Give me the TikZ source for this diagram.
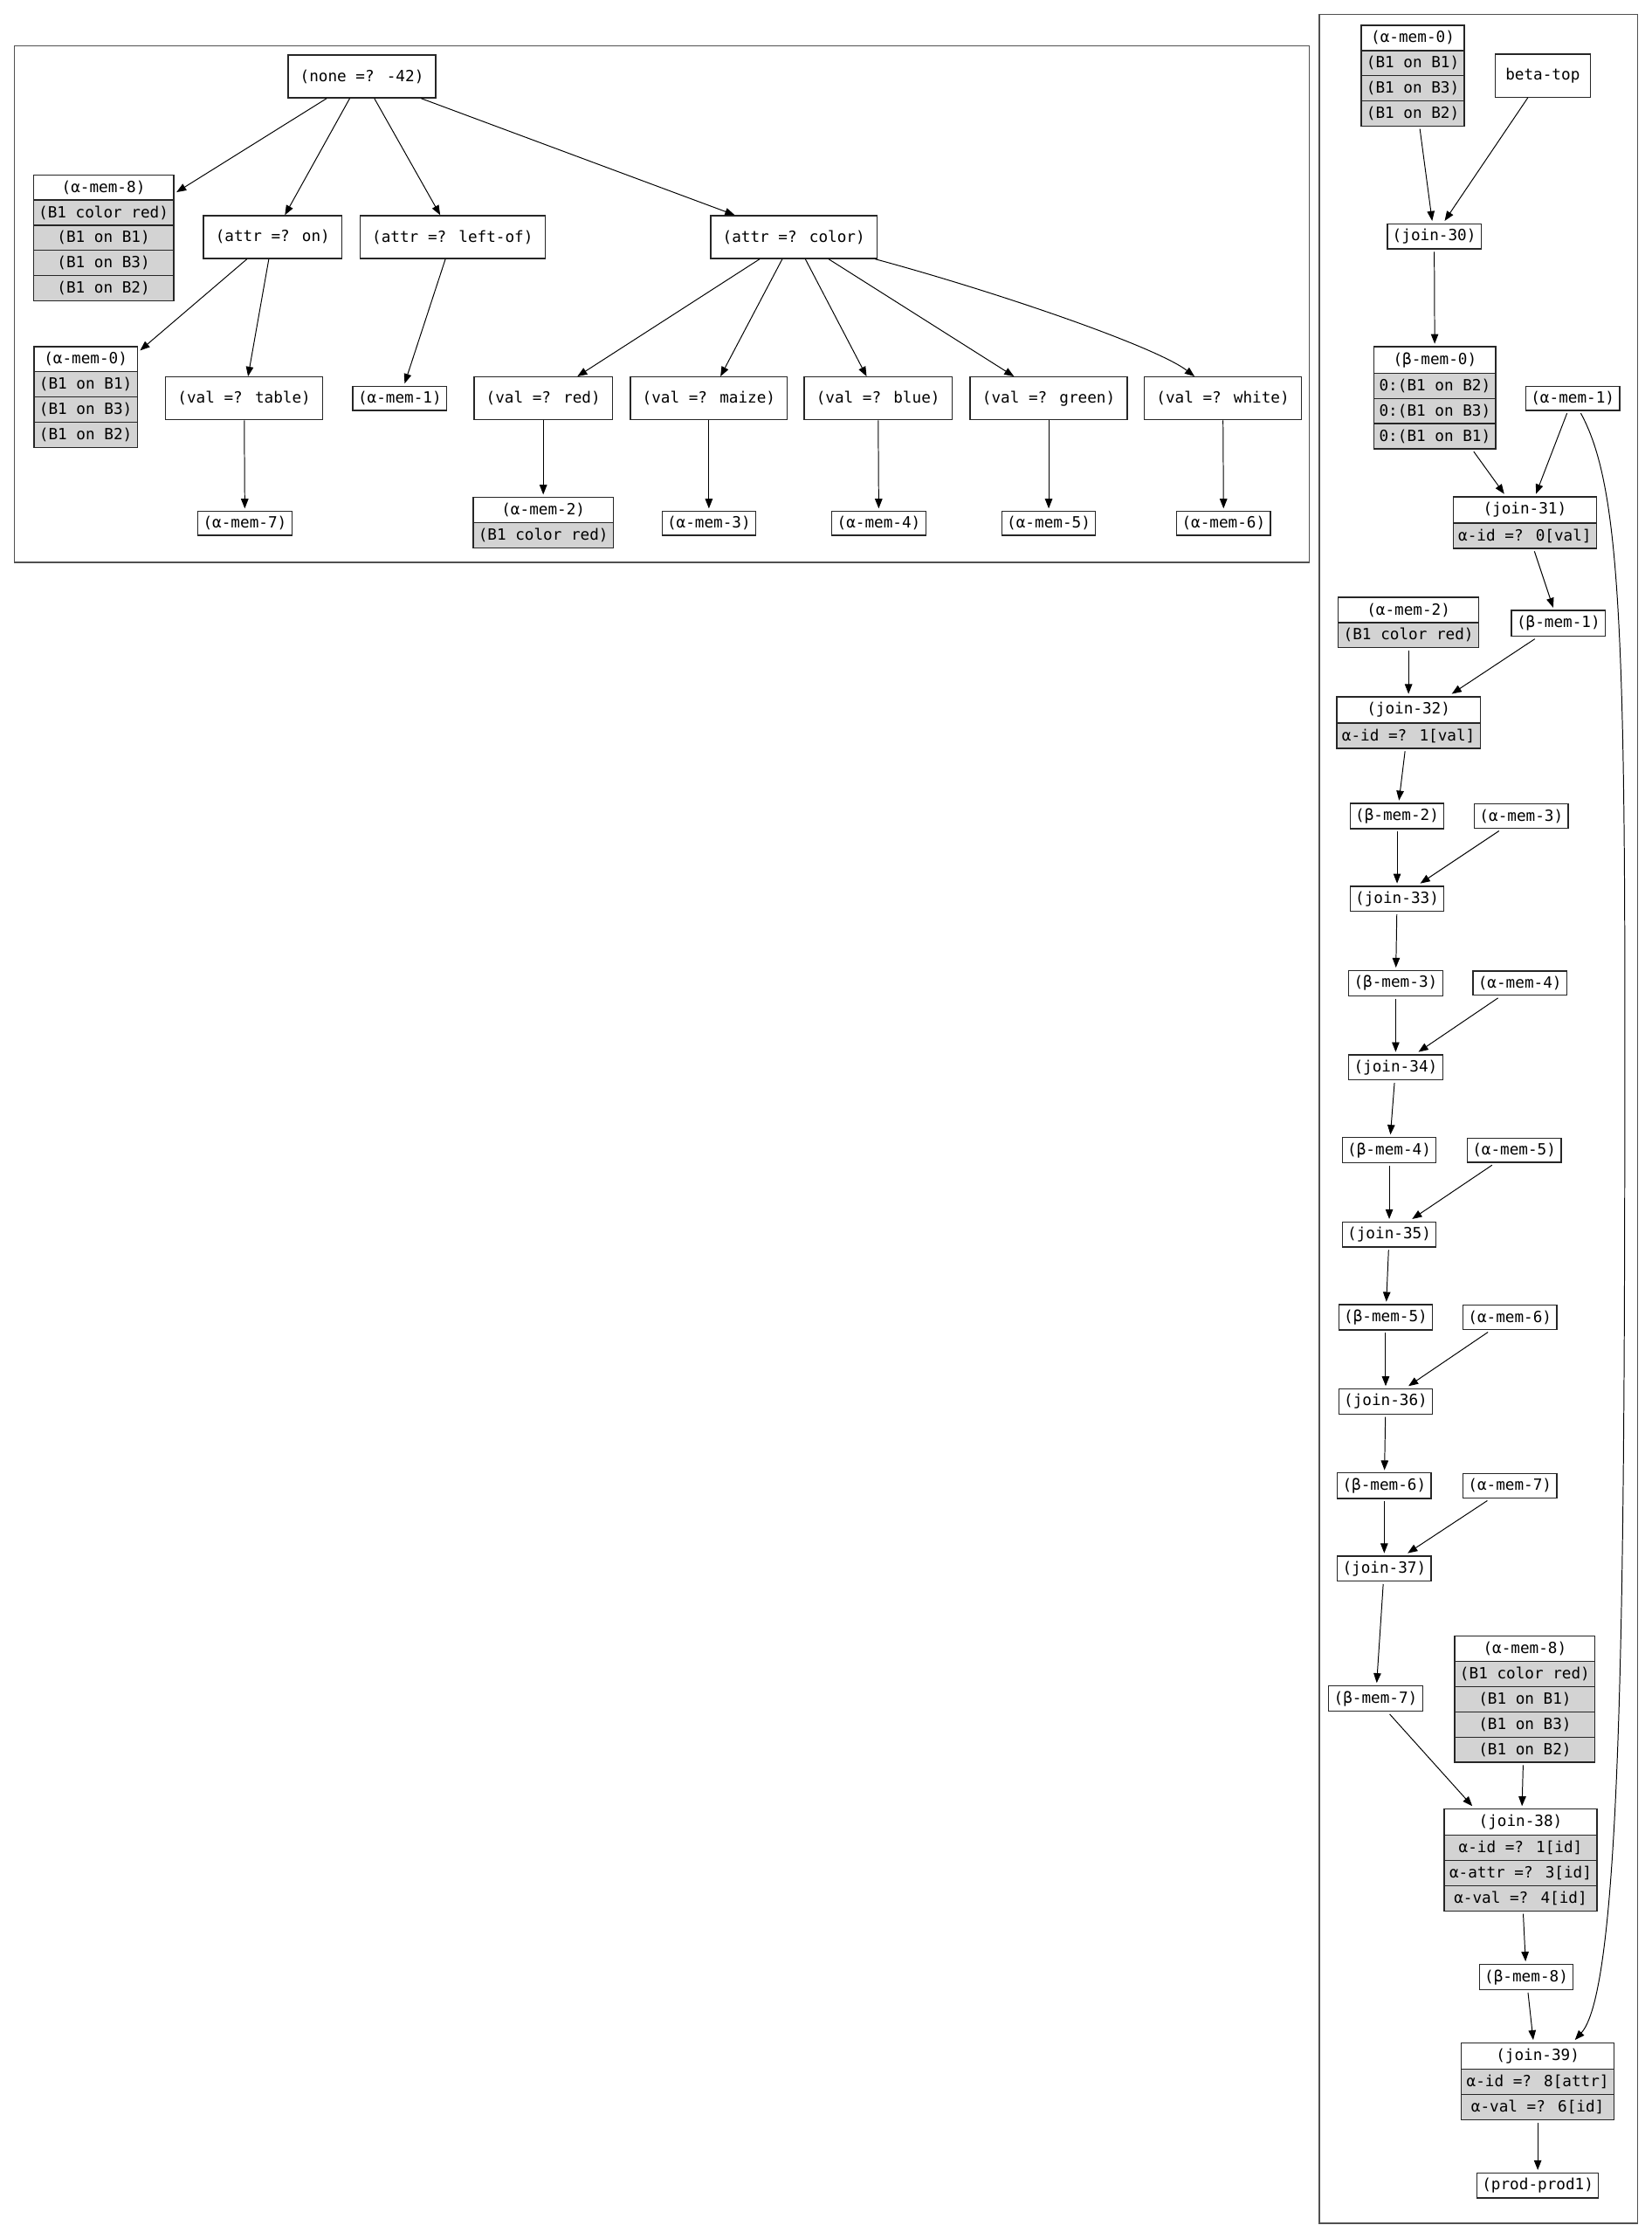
\documentclass[tikz,border=0pt]{standalone}
\usepackage{fontspec}
\usepackage{tikz}
\usetikzlibrary{positioning, arrows.meta, shapes.multipart}
\newfontfamily\dotmono{DejaVu Sans Mono}
\definecolor{rowgray}{RGB}{211,211,211}
\definecolor{clustgray}{RGB}{80,80,80}

\begin{document}
\begin{tikzpicture}[
  x=0.5pt, y=-0.5pt,
  font=\dotmono\fontsize{5.4}{6.5}\selectfont,
  testbox/.style={draw=black!85, line width=0.4pt, rectangle,
                  inner xsep=4.2pt, inner ysep=0pt, minimum height=15pt},
  membox/.style={draw=black!85, line width=0.4pt, rectangle,
                 inner xsep=1.8pt, inner ysep=1.8pt, outer sep=1pt},
  memtable/.style={membox, rectangle split, rectangle split parts=#1,
                   rectangle split part fill={white,rowgray}},
  cluster/.style={draw=clustgray, line width=0.5pt},
  link/.style={-{Triangle[length=3.4pt,width=2.6pt]}, line width=0.3pt}
]
\useasboundingbox (0,0) rectangle (1157,1568);

% alpha network
\draw[cluster] (10,32) rectangle (917,394);

\node[testbox] (nnone)   at (253.5,53.5) {(none =? -42)};
\node[testbox] (aon)     at (191,166)    {(attr =? on)};
\node[testbox] (aleftof) at (317,166)    {(attr =? left-of)};
\node[testbox] (acolor)  at (556,166)    {(attr =? color)};

\node[memtable=5] (la8) at (72.5,166.5)
  {(α-mem-8)\nodepart{two}(B1 color red)\nodepart{three}(B1 on B1)%
   \nodepart{four}(B1 on B3)\nodepart{five}(B1 on B2)};
\node[memtable=4] (la0) at (60,278)
  {(α-mem-0)\nodepart{two}(B1 on B1)\nodepart{three}(B1 on B3)%
   \nodepart{four}(B1 on B2)};

\node[testbox] (vtable) at (171,279)   {(val =? table)};
\node[membox]  (la1)    at (280,279)   {(α-mem-1)};
\node[testbox] (vred)   at (380.5,279) {(val =? red)};
\node[testbox] (vmaize) at (496.5,279) {(val =? maize)};
\node[testbox] (vblue)  at (615,279)   {(val =? blue)};
\node[testbox] (vgreen) at (734.5,279) {(val =? green)};
\node[testbox] (vwhite) at (856.5,279) {(val =? white)};

\node[membox]     (la7) at (171.5,366.5) {(α-mem-7)};
\node[memtable=2] (la2) at (380.5,366)   {(α-mem-2)\nodepart{two}(B1 color red)};
\node[membox]     (la3) at (496.5,366.5) {(α-mem-3)};
\node[membox]     (la4) at (615.5,366.5) {(α-mem-4)};
\node[membox]     (la5) at (734.5,366.5) {(α-mem-5)};
\node[membox]     (la6) at (857,366.5)   {(α-mem-6)};

\foreach \t in {la8, aon, aleftof, acolor}
  \draw[link] (nnone) -- (\t);
\draw[link] (aon) -- (la0);
\draw[link] (aon) -- (vtable);
\draw[link] (aleftof) -- (la1);
\foreach \t in {vred, vmaize, vblue, vgreen}
  \draw[link] (acolor) -- (\t);
\draw[link] (acolor) .. controls (700,205) and (810,243) .. (vwhite);
\foreach \v/\m in {vtable/la7, vred/la2, vmaize/la3, vblue/la4, vgreen/la5, vwhite/la6}
  \draw[link] (\v) -- (\m);

% beta network
\draw[cluster] (924,10) rectangle (1147,1557);

\node[memtable=4] (ra0) at (989.5,53)
  {(α-mem-0)\nodepart{two}(B1 on B1)\nodepart{three}(B1 on B3)%
   \nodepart{four}(B1 on B2)};
\node[testbox, inner xsep=3.7pt] (btop) at (1080.5,53) {beta-top};
\node[membox] (j30) at (1004.5,165.5) {(join-30)};
\node[memtable=4] (bm0) at (1005,278.5)
  {(β-mem-0)\nodepart{two}0:(B1 on B2)\nodepart{three}0:(B1 on B3)%
   \nodepart{four}0:(B1 on B1)};
\node[membox] (ra1) at (1101.5,279) {(α-mem-1)};
\node[memtable=2] (j31) at (1068,366) {(join-31)\nodepart{two}α-id =? 0[val]};
\node[memtable=2] (ra2) at (986.5,436) {(α-mem-2)\nodepart{two}(B1 color red)};
\node[membox] (bm1) at (1091.5,436.5) {(β-mem-1)};
\node[memtable=2] (j32) at (986.5,506) {(join-32)\nodepart{two}α-id =? 1[val]};

\node[membox] (bm2) at (978.5,571.5)  {(β-mem-2)};
\node[membox] (ra3) at (1065.5,571.5) {(α-mem-3)};
\node[membox] (j33) at (978.5,629.5)  {(join-33)};
\node[membox] (bm3) at (977.5,688.5)  {(β-mem-3)};
\node[membox] (ra4) at (1064.5,688.5) {(α-mem-4)};
\node[membox] (j34) at (977.5,747.5)  {(join-34)};
\node[membox] (bm4) at (973,805.5)    {(β-mem-4)};
\node[membox] (ra5) at (1060.5,805.5) {(α-mem-5)};
\node[membox] (j35) at (973,864.5)    {(join-35)};
\node[membox] (bm5) at (970.5,922.5)  {(β-mem-5)};
\node[membox] (ra6) at (1057.5,922.5) {(α-mem-6)};
\node[membox] (j36) at (970.5,981.5)  {(join-36)};
\node[membox] (bm6) at (969.5,1040.5) {(β-mem-6)};
\node[membox] (ra7) at (1057.5,1040.5){(α-mem-7)};
\node[membox] (j37) at (969.5,1098.5) {(join-37)};
\node[membox] (bm7) at (963.5,1189.5) {(β-mem-7)};

\node[memtable=5] (ra8) at (1068,1190)
  {(α-mem-8)\nodepart{two}(B1 color red)\nodepart{three}(B1 on B1)%
   \nodepart{four}(B1 on B3)\nodepart{five}(B1 on B2)};
\node[memtable=4] (j38) at (1065,1302.5)
  {(join-38)\nodepart{two}α-id =? 1[id]\nodepart{three}α-attr =? 3[id]%
   \nodepart{four}α-val =? 4[id]};
\node[membox] (bm8) at (1069,1384.5) {(β-mem-8)};
\node[memtable=3] (j39) at (1077,1457.5)
  {(join-39)\nodepart{two}α-id =? 8[attr]\nodepart{three}α-val =? 6[id]};
\node[membox] (prod) at (1077,1530.5) {(prod-prod1)};
\coordinate (rbend) at (1138,700);

\draw[link] (ra0) -- (j30);
\draw[link] (btop) -- (j30);
\draw[link] (j30) -- (bm0);
\draw[link] (bm0) -- (j31);
\draw[link] (ra1) -- (j31);
\draw[link] (ra1) .. controls (1132,335) and (1138,420) .. (rbend)
                  .. controls (1138,1100) and (1137,1391) .. (j39);
\draw[link] (j31) -- (bm1);
\draw[link] (ra2) -- (j32);
\draw[link] (bm1) -- (j32);
\foreach \j/\b in {32/2, 33/3, 34/4, 35/5, 36/6, 37/7}
  \draw[link] (j\j) -- (bm\b);
\foreach \j/\b/\a in {33/2/3, 34/3/4, 35/4/5, 36/5/6, 37/6/7} {
  \draw[link] (bm\b) -- (j\j);
  \draw[link] (ra\a) -- (j\j);
}
\draw[link] (bm7) -- (j38);
\draw[link] (ra8) -- (j38);
\draw[link] (j38) -- (bm8);
\draw[link] (bm8) -- (j39);
\draw[link] (j39) -- (prod);
\end{tikzpicture}
\end{document}
